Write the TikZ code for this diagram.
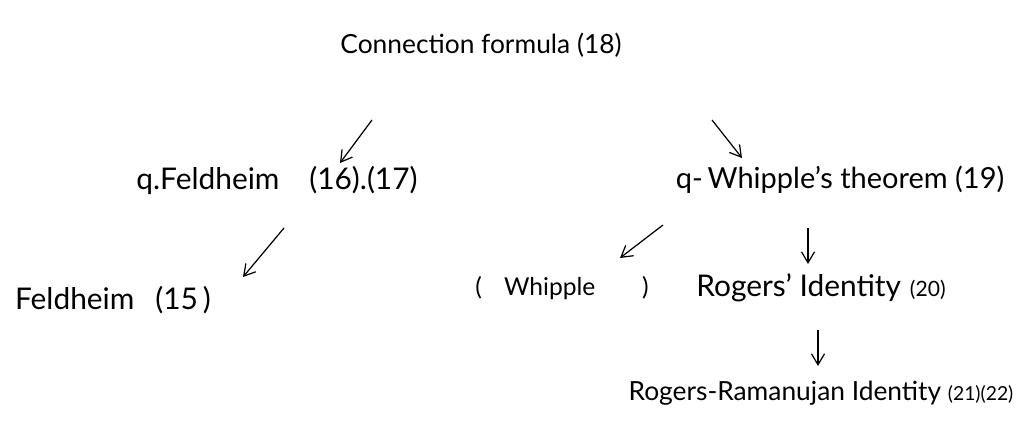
\documentclass[tikz,border=0pt]{standalone}
\usepackage{fontspec}
\setmainfont{Lato}
\usetikzlibrary{arrows.meta}
\begin{document}
\begin{tikzpicture}[x=0.02cm,y=-0.02cm,
  lbl/.style={inner sep=0pt, anchor=center, font=\fontsize{15}{18}\selectfont},
  big/.style={font=\fontsize{17}{20}\selectfont},
  arr/.style={line width=0.7pt, -{Straight Barb[length=2.2mm,width=2.6mm]}}]
\useasboundingbox (0,0) rectangle (1025,428);
\node[lbl] (conn) at (481,45) {Connection formula (18)};
\node[lbl,big] (qfeld) at (277,180) {q.Feldheim\hspace{1em}(16).(17)};
\node[lbl,font=\fontsize{16.5}{20}\selectfont] (qwhip) at (840,180) {q-\,Whipple's theorem (19)};
\node[lbl,big] (feld) at (113,300) {Feldheim\hspace{0.7em}(15\,)};
\node[lbl,font=\fontsize{14}{17}\selectfont] (whip) at (562,288) {(\hspace{0.9em}Whipple\hspace{1.9em})};
\node[lbl,big] (rog) at (821,288) {Rogers' Identity\hspace{0.3em}{\fontsize{12}{14}\selectfont(20)}};
\node[lbl] (rr) at (821,393) {Rogers-Ramanujan Identity {\fontsize{11}{12}\selectfont(21)(22)}};
\coordinate (a1s) at (372,120); \coordinate (a1e) at (340,163);
\coordinate (a2s) at (712,120); \coordinate (a2e) at (742,158);
\coordinate (a3s) at (284,228); \coordinate (a3e) at (243,277);
\coordinate (a4s) at (663,225); \coordinate (a4e) at (620,258);
\coordinate (a5s) at (808,228); \coordinate (a5e) at (808,264);
\coordinate (a6s) at (818,330); \coordinate (a6e) at (818,366);
\draw[arr] (a1s) -- (a1e);
\draw[arr] (a2s) -- (a2e);
\draw[arr] (a3s) -- (a3e);
\draw[arr] (a4s) -- (a4e);
\draw[arr] (a5s) -- (a5e);
\draw[arr] (a6s) -- (a6e);
\end{tikzpicture}
\end{document}
